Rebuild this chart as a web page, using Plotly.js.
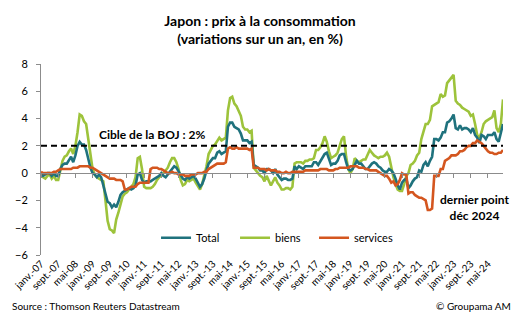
<!DOCTYPE html>
<html><head><meta charset="utf-8">
<script src="https://cdn.plot.ly/plotly-3.0.1.min.js"></script>
<style>html,body{margin:0;padding:0;background:#fff}#c{width:520px;height:314px}</style>
</head><body><div id="c"></div>
<script>
// Monthly data, janv. 2007 -> déc. 2024 (one row per year)
const total = [
 0.0,-0.2,-0.1,0.0,0.0,-0.2,0.0,-0.2,-0.2,0.3,0.6,0.7,
 0.7,1.0,1.2,0.8,1.3,2.0,2.3,2.1,2.1,1.7,1.0,0.4,
 0.0,-0.1,-0.3,-0.1,-0.3,-0.9,-1.6,-2.1,-2.2,-2.5,-2.3,-2.5,
 -2.1,-1.6,-1.4,-1.3,-1.2,-1.1,-1.2,-1.1,-0.9,-0.1,0.0,-0.5,
 -0.7,-0.6,-0.6,-0.6,-0.5,-0.4,-0.3,-0.2,0.0,-0.2,-0.3,-0.1,
 0.1,0.3,0.5,0.4,0.1,-0.2,-0.4,-0.5,-0.3,-0.4,-0.3,-0.2,
 -0.4,-0.7,-1.0,-0.8,-0.4,0.2,0.7,0.9,1.1,1.1,1.5,1.6,
 1.4,1.5,1.6,3.4,3.7,3.7,3.4,3.3,3.2,2.9,2.4,2.4,
 2.4,2.2,2.3,0.6,0.5,0.4,0.2,0.2,0.0,0.3,0.3,0.2,
 0.0,0.3,-0.1,-0.3,-0.5,-0.4,-0.4,-0.5,-0.5,-0.4,0.5,0.3,
 0.5,0.4,0.3,0.5,0.5,0.5,0.5,0.8,0.8,0.6,0.9,1.1,
 1.4,1.5,1.1,0.6,0.7,0.7,0.9,1.3,1.4,1.4,0.8,0.3,
 0.2,0.3,0.6,0.9,0.7,0.7,0.5,0.3,0.3,0.5,0.7,0.8,
 0.7,0.5,0.4,0.2,0.1,0.1,0.3,0.2,0.0,-0.4,-0.9,-1.2,
 -0.7,-0.5,-0.4,-1.1,-0.9,-0.6,-0.4,-0.3,0.2,0.1,0.6,0.8,
 0.5,0.9,1.2,2.5,2.5,2.4,2.6,3.0,3.0,3.7,3.8,4.0,
 4.3,3.3,3.2,3.5,3.2,3.3,3.3,3.2,3.0,3.3,2.8,2.6,
 2.2,2.8,2.7,2.5,2.8,2.8,2.8,3.0,2.5,2.3,2.9,3.6
];
const biens = [
 -0.1,-0.3,-0.4,-0.2,-0.1,-0.4,-0.2,-0.5,-0.5,0.3,0.9,1.2,
 1.3,1.6,1.8,1.4,2.0,3.0,4.3,4.2,3.8,3.6,2.5,1.2,
 0.3,-0.1,-0.3,-0.4,-0.5,-0.6,-2.0,-3.5,-4.1,-4.2,-4.4,-3.4,
 -2.9,-2.2,-1.7,-1.5,-1.4,-1.2,-1.0,-0.8,-0.3,1.1,1.2,0.3,
 -1.0,-1.1,-1.1,-1.1,-1.0,-0.8,-0.5,-0.3,-0.2,0.0,0.2,0.4,
 0.8,1.1,1.1,0.8,0.3,-0.5,-0.9,-0.8,-0.5,-0.6,-0.5,-0.4,
 -0.7,-1.0,-1.2,-0.8,-0.2,0.5,1.4,1.7,2.0,2.1,2.4,2.6,
 2.4,2.5,2.6,4.6,5.5,5.6,5.1,4.9,4.6,4.2,3.4,3.2,
 3.2,3.0,3.1,0.4,0.2,0.0,-0.2,-0.3,-0.6,-0.2,-0.5,-0.9,
 -0.6,-0.3,-0.7,-0.9,-1.2,-1.2,-1.1,-1.1,-1.2,-1.0,0.7,0.8,
 0.8,0.8,0.7,0.9,0.9,1.0,1.0,1.1,1.7,1.7,1.9,2.2,
 2.7,2.3,1.6,1.1,1.2,1.3,1.5,2.0,2.5,2.7,1.2,0.3,
 0.0,0.3,1.1,0.9,0.8,0.9,1.0,1.0,1.4,1.7,1.5,1.3,
 1.2,1.1,1.2,1.2,1.3,1.5,1.2,0.4,-0.3,-0.8,-1.2,-1.3,
 -1.3,-0.8,-0.2,0.0,0.6,0.7,0.9,1.3,1.5,2.5,3.0,3.6,
 3.6,3.9,4.9,5.0,5.1,5.2,5.8,5.6,5.7,6.6,6.8,7.0,
 7.2,5.3,5.1,5.0,4.8,4.7,4.6,4.5,4.2,4.3,3.6,2.8,
 2.6,3.0,3.6,3.8,3.9,4.0,4.1,4.6,3.3,3.0,3.6,5.4
];
const services = [
 0.1,0.0,0.0,0.0,0.0,0.0,0.1,0.1,0.2,0.3,0.3,0.3,
 0.3,0.3,0.3,0.4,0.4,0.4,0.5,0.5,0.5,0.5,0.5,0.4,
 0.4,0.3,0.2,0.1,0.0,-0.1,-0.2,-0.3,-0.4,-0.4,-0.4,-0.5,
 -0.5,-0.5,-0.6,-1.2,-1.2,-1.1,-1.0,-1.0,-1.0,-0.8,-0.7,-0.7,
 -0.7,-0.7,-0.7,0.3,0.4,0.4,0.4,0.3,0.3,0.2,0.1,0.0,
 0.0,0.1,0.0,0.0,-0.1,-0.1,-0.1,-0.2,-0.2,-0.2,-0.1,-0.1,
 -0.1,0.0,0.0,0.0,0.1,0.1,0.3,0.4,0.5,0.6,0.7,0.7,
 0.7,0.7,0.8,1.8,1.9,1.8,1.8,1.9,1.8,1.8,1.8,1.8,
 1.8,1.7,1.8,0.4,0.4,0.4,0.3,0.3,0.3,0.2,0.3,0.2,
 0.2,0.2,0.1,0.1,0.0,0.0,0.1,0.0,0.0,0.1,0.1,0.1,
 0.1,0.1,0.1,0.2,0.2,0.2,0.2,0.2,0.2,0.2,0.3,0.3,
 0.3,0.3,0.2,0.2,0.2,0.3,0.3,0.4,0.4,0.4,0.4,0.4,
 0.5,0.5,0.5,0.5,0.4,0.4,0.4,0.3,0.3,0.2,0.2,0.2,
 0.2,0.1,0.0,-0.1,-0.2,-0.2,-0.4,-0.7,-0.6,-0.9,-0.8,-0.5,
 0.0,-0.1,-0.1,-1.5,-1.4,-1.4,-1.6,-1.7,-1.8,-1.8,-1.9,-2.0,
 -2.7,-2.7,-2.6,-0.2,-0.2,-0.2,0.3,0.3,0.9,1.0,1.1,1.3,
 1.3,1.3,1.4,1.6,1.6,1.7,1.9,2.0,2.0,2.2,2.2,2.4,
 2.3,2.2,2.0,1.8,1.6,1.5,1.5,1.4,1.4,1.5,1.5,1.7
];
const tickLabels = ["janv.-07","sept.-07","mai-08","janv.-09","sept.-09","mai-10","janv.-11","sept.-11","mai-12","janv.-13","sept.-13","mai-14","janv.-15","sept.-15","mai-16","janv.-17","sept.-17","mai-18","janv.-19","sept.-19","mai-20","janv.-21","sept.-21","mai-22","janv.-23","sept.-23","mai-24"];
const tickStep = 8; // months between labels
const cible = 2;
const seriesNames = ["Total","biens","services"];

const months = total.map((_, i) => i);
const tickvals = tickLabels.map((_, i) => i * tickStep);
const FONT = "Lato, 'Open Sans', sans-serif";

const traces = [
  {x: months, y: biens, name: seriesNames[1], type: 'scatter', mode: 'lines', legendrank: 2,
   line: {color: '#9DC33B', width: 2.6}},
  {x: months, y: total, name: seriesNames[0], type: 'scatter', mode: 'lines', legendrank: 1,
   line: {color: '#1F727D', width: 2.6}},
  {x: months, y: services, name: seriesNames[2], type: 'scatter', mode: 'lines', legendrank: 3,
   line: {color: '#D4561F', width: 2.6}},
  {x: [], y: [], xaxis: 'x2', yaxis: 'y', type: 'scatter', mode: 'lines', showlegend: false, hoverinfo: 'skip'}
];

const xr = [0, months.length - 1];
const layout = {
  width: 520, height: 314,
  margin: {l: 41, r: 17, t: 64, b: 59, autoexpand: false},
  paper_bgcolor: '#fff', plot_bgcolor: '#fff',
  font: {family: FONT, color: '#000', size: 11},
  title: {text: '<b>Japon : prix à la consommation</b><br><b>(variations sur un an, en %)</b>',
          xref: 'container', x: 0.5, xanchor: 'center', yref: 'container', y: 0.918, yanchor: 'top',
          automargin: false, font: {family: FONT, size: 14, color: '#000'}},
  showlegend: true,
  legend: {orientation: 'h', x: 0.249, xanchor: 'left', y: 0.09, yanchor: 'middle',
           font: {family: FONT, size: 11, color: '#000'}, bgcolor: 'rgba(0,0,0,0)',
           entrywidth: 34, entrywidthmode: 'pixels', traceorder: 'normal'},
  xaxis: {range: xr, anchor: 'free', position: 6/14, showline: true, linecolor: '#8c8c8c', linewidth: 1,
          ticks: 'outside', ticklen: 4, tickcolor: '#8c8c8c', tickvals: tickvals,
          showticklabels: false, showgrid: false, zeroline: false, fixedrange: true},
  xaxis2: {range: xr, overlaying: 'x', anchor: 'y', side: 'bottom', showline: false, ticks: '',
           tickvals: tickvals, ticktext: tickLabels, tickangle: -45, showgrid: false, zeroline: false,
           automargin: false, tickfont: {family: FONT, size: 10, color: '#000'}},
  yaxis: {range: [-6, 8], tickvals: [-6,-4,-2,0,2,4,6,8], showline: true, linecolor: '#8c8c8c', linewidth: 1,
          ticks: 'outside', ticklen: 4, tickcolor: '#8c8c8c', showgrid: false, zeroline: false,
          ticklabelstandoff: 6, automargin: false, tickfont: {family: FONT, size: 11, color: '#000'}},
  shapes: [{type: 'line', xref: 'paper', x0: 0, x1: 1, yref: 'y', y0: cible, y1: cible,
            line: {color: '#000', width: 2, dash: '6px,4px'}}],
  annotations: [
    {text: '<b>Cible de la BOJ : 2%</b>', xref: 'paper', x: 0.24, xanchor: 'center', yref: 'y', y: 2.8,
     yanchor: 'middle', showarrow: false, font: {family: FONT, size: 12, color: '#000'}},
    {text: '<b>dernier point</b><br><b>déc 2024</b>', xref: 'paper', x: 0.939, xanchor: 'center', yref: 'y', y: -2.5,
     yanchor: 'middle', showarrow: false, font: {family: FONT, size: 12, color: '#000'}},
    {text: 'Source : Thomson Reuters Datastream', xref: 'paper', x: -0.067, xanchor: 'left', yref: 'paper', y: -0.267,
     yanchor: 'middle', showarrow: false, font: {family: FONT, size: 10, color: '#000'}},
    {text: '© Groupama AM', xref: 'paper', x: 1.022, xanchor: 'right', yref: 'paper', y: -0.267,
     yanchor: 'middle', showarrow: false, font: {family: FONT, size: 10, color: '#000'}}
  ]
};
Plotly.newPlot('c', traces, layout, {displayModeBar: false, staticPlot: true});
</script></body></html>
